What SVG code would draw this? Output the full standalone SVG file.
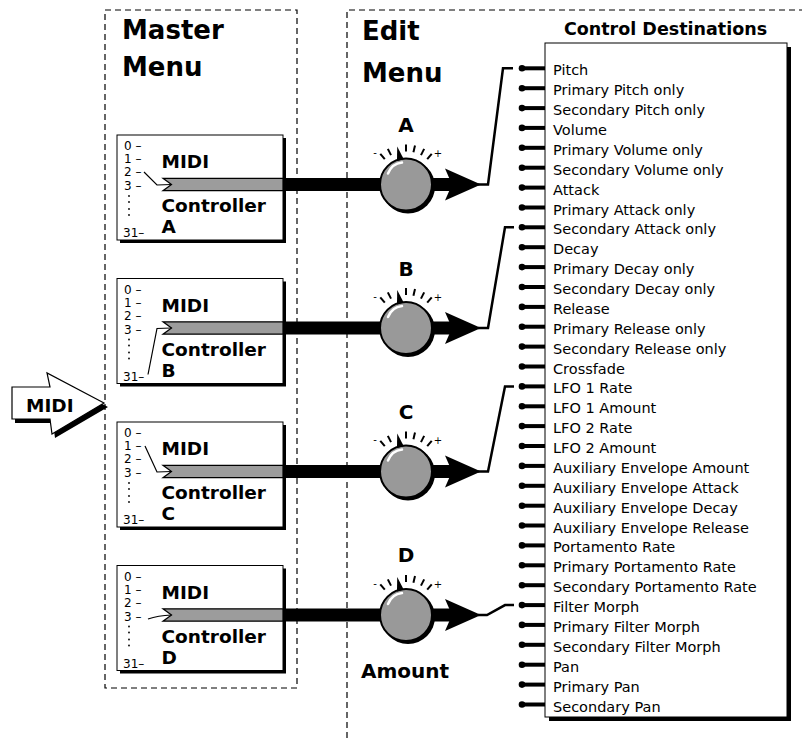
<svg xmlns="http://www.w3.org/2000/svg" xmlns:xlink="http://www.w3.org/1999/xlink" width="802" height="738" viewBox="0 0 802 738">
<style>
.dash{fill:none;stroke:#000;stroke-width:1.2;stroke-dasharray:6,4}
.title{font-family:"DejaVu Sans",sans-serif;font-weight:bold;font-size:26px;fill:#000}
.big{font-family:"DejaVu Sans",sans-serif;font-weight:bold;font-size:18.5px;fill:#000}
.klabel{font-family:"DejaVu Sans",sans-serif;font-weight:bold;font-size:20px;fill:#000;text-anchor:middle}
.num{font-family:"DejaVu Sans",sans-serif;font-size:12px;fill:#000}
.pm{font-family:"DejaVu Sans",sans-serif;font-size:10px;fill:#000;text-anchor:middle}
.item{font-family:"DejaVu Sans",sans-serif;font-size:14.5px;fill:#000}
.dtitle{font-family:"DejaVu Sans",sans-serif;font-weight:bold;font-size:17.5px;fill:#000;text-anchor:middle}
.box{fill:#fff;stroke:#000;stroke-width:1}
.shadow{fill:#000}
.gbar{fill:#9c9c9c;stroke:#000;stroke-width:1.2}
.sel{fill:none;stroke:#000;stroke-width:1.2}
.shaft{stroke:#000;stroke-width:13;fill:none}
.sw{fill:none;stroke:#000;stroke-width:2.5;stroke-linejoin:miter}
.tick{stroke:#000;stroke-width:2}
</style>
<defs>
<g id="term"><line x1="522" y1="0" x2="545" y2="0" stroke="#000" stroke-width="4"/><circle cx="522" cy="0" r="3.3" fill="#000"/></g>
<g id="knob">
<circle cx="2" cy="2" r="27" fill="#000"/>
<circle cx="0" cy="0" r="26" fill="#999" stroke="#000" stroke-width="2"/>
<path d="M-18,-11 Q-14,-21 -4,-22" fill="none" stroke="#fff" stroke-width="2.5" stroke-linecap="round"/>
<line class="tick" x1="0" y1="-33" x2="0" y2="-40" transform="rotate(-40)"/>
<line class="tick" x1="0" y1="-33" x2="0" y2="-40" transform="rotate(-27)"/>
<line class="tick" x1="0" y1="-33" x2="0" y2="-40"/>
<line class="tick" x1="0" y1="-33" x2="0" y2="-40" transform="rotate(13)"/>
<line class="tick" x1="0" y1="-33" x2="0" y2="-40" transform="rotate(27)"/>
<line class="tick" x1="0" y1="-33" x2="0" y2="-40" transform="rotate(40)"/>
<polygon points="-3.5,-25 0,-39 3.5,-25" fill="#000" transform="rotate(-13)"/>
</g>
<polygon id="head" points="-35,-16 1,0 -35,16 -28,0" fill="#000"/>
</defs>

<g id="master-menu">
<rect class="dash" x="105" y="10" width="192" height="678"/>
<text class="title" x="122" y="39">Master</text>
<text class="title" x="122" y="76">Menu</text>
</g>

<g id="edit-menu">
<path class="dash" d="M347,738 V10 H802"/>
<text class="title" x="362" y="40">Edit</text>
<text class="title" x="362" y="82">Menu</text>
<text class="klabel" x="405" y="678">Amount</text>
</g>

<g id="midi-in">
<polygon points="15,391 53,391 50,377 108,407 55,438 53,423 15,423" fill="#000"/>
<polygon points="12,387 50,387 47,373 104,403 52,434 50,419 12,419" fill="#fff" stroke="#000" stroke-width="1.2"/>
<text class="big" x="26" y="411.5">MIDI</text>
</g>

<g id="ctrl-A" transform="translate(0,135)">
<rect class="shadow" x="120" y="3" width="166" height="105"/>
<rect class="box" x="117" y="0" width="166" height="105"/>
<text class="num" x="124" y="15">0 –</text>
<text class="num" x="124" y="28">1 –</text>
<text class="num" x="124" y="41">2 –</text>
<text class="num" x="124" y="55">3 –</text>
<g fill="#000"><circle cx="129" cy="61" r="0.9"/><circle cx="129" cy="67" r="0.9"/><circle cx="129" cy="74" r="0.9"/><circle cx="129" cy="80" r="0.9"/></g>
<text class="num" x="123" y="102">31–</text>
<polygon class="gbar" points="163,43.3 283,43.3 283,55.7 163,55.7 171.5,49.5"/>
<polyline class="sel" points="144,37 157,50 171.5,49.5"/>
<text class="big" x="161.5" y="33">MIDI</text>
<text class="big" x="161.5" y="77">Controller</text>
<text class="big" x="161.5" y="98">A</text>
</g>

<g id="ctrl-B" transform="translate(0,278.5)">
<rect class="shadow" x="120" y="3" width="166" height="105"/>
<rect class="box" x="117" y="0" width="166" height="105"/>
<text class="num" x="124" y="15">0 –</text>
<text class="num" x="124" y="28">1 –</text>
<text class="num" x="124" y="41">2 –</text>
<text class="num" x="124" y="55">3 –</text>
<g fill="#000"><circle cx="129" cy="61" r="0.9"/><circle cx="129" cy="67" r="0.9"/><circle cx="129" cy="74" r="0.9"/><circle cx="129" cy="80" r="0.9"/></g>
<text class="num" x="123" y="102">31–</text>
<polygon class="gbar" points="163,43.3 283,43.3 283,55.7 163,55.7 171.5,49.5"/>
<polyline class="sel" points="148,96 157,50 171.5,49.5"/>
<text class="big" x="161.5" y="33">MIDI</text>
<text class="big" x="161.5" y="77">Controller</text>
<text class="big" x="161.5" y="98">B</text>
</g>

<g id="ctrl-C" transform="translate(0,422)">
<rect class="shadow" x="120" y="3" width="166" height="105"/>
<rect class="box" x="117" y="0" width="166" height="105"/>
<text class="num" x="124" y="15">0 –</text>
<text class="num" x="124" y="28">1 –</text>
<text class="num" x="124" y="41">2 –</text>
<text class="num" x="124" y="55">3 –</text>
<g fill="#000"><circle cx="129" cy="61" r="0.9"/><circle cx="129" cy="67" r="0.9"/><circle cx="129" cy="74" r="0.9"/><circle cx="129" cy="80" r="0.9"/></g>
<text class="num" x="123" y="102">31–</text>
<polygon class="gbar" points="163,43.3 283,43.3 283,55.7 163,55.7 171.5,49.5"/>
<polyline class="sel" points="145,24 157,50 171.5,49.5"/>
<text class="big" x="161.5" y="33">MIDI</text>
<text class="big" x="161.5" y="77">Controller</text>
<text class="big" x="161.5" y="98">C</text>
</g>

<g id="ctrl-D" transform="translate(0,565.5)">
<rect class="shadow" x="120" y="3" width="166" height="105"/>
<rect class="box" x="117" y="0" width="166" height="105"/>
<text class="num" x="124" y="15">0 –</text>
<text class="num" x="124" y="28">1 –</text>
<text class="num" x="124" y="41">2 –</text>
<text class="num" x="124" y="55">3 –</text>
<g fill="#000"><circle cx="129" cy="61" r="0.9"/><circle cx="129" cy="67" r="0.9"/><circle cx="129" cy="74" r="0.9"/><circle cx="129" cy="80" r="0.9"/></g>
<text class="num" x="123" y="102">31–</text>
<polygon class="gbar" points="163,43.3 283,43.3 283,55.7 163,55.7 171.5,49.5"/>
<path class="sel" d="M148,53.5 Q158,50 171.5,49.5"/>
<text class="big" x="161.5" y="33">MIDI</text>
<text class="big" x="161.5" y="77">Controller</text>
<text class="big" x="161.5" y="98">D</text>
</g>

<g id="connectors">
<line class="shaft" x1="283" y1="184.5" x2="452" y2="184.5"/>
<line class="shaft" x1="283" y1="328" x2="452" y2="328"/>
<line class="shaft" x1="283" y1="471.5" x2="452" y2="471.5"/>
<line class="shaft" x1="283" y1="615" x2="452" y2="615"/>
<use xlink:href="#head" x="480" y="184.5"/>
<use xlink:href="#head" x="480" y="328"/>
<use xlink:href="#head" x="480" y="471.5"/>
<use xlink:href="#head" x="480" y="615"/>
<polyline class="sw" points="478,184.5 488,184.5 503,68.3 513,68.3"/>
<polyline class="sw" points="478,328 488,328 505,227.3 514,227.3"/>
<polyline class="sw" points="478,471.5 488,471.5 505,386.4 514,386.4"/>
<polyline class="sw" points="478,615 487,615 505,605.1 514,605.1"/>
</g>

<g id="knob-A">
<use xlink:href="#knob" x="406" y="184.5"/>
<text class="pm" x="375" y="156">-</text>
<text class="pm" x="438" y="157">+</text>
<text class="klabel" x="406" y="132">A</text>
</g>
<g id="knob-B">
<use xlink:href="#knob" x="406" y="328"/>
<text class="pm" x="375" y="299.5">-</text>
<text class="pm" x="438" y="300.5">+</text>
<text class="klabel" x="406" y="276">B</text>
</g>
<g id="knob-C">
<use xlink:href="#knob" x="406" y="471.5"/>
<text class="pm" x="375" y="443">-</text>
<text class="pm" x="438" y="444">+</text>
<text class="klabel" x="406" y="419">C</text>
</g>
<g id="knob-D">
<use xlink:href="#knob" x="406" y="615"/>
<text class="pm" x="375" y="586.5">-</text>
<text class="pm" x="438" y="587.5">+</text>
<text class="klabel" x="406" y="562">D</text>
</g>

<g id="destinations">
<text class="dtitle" x="665.5" y="35">Control Destinations</text>
<rect class="shadow" x="549" y="47" width="242" height="674"/>
<rect class="box" x="545" y="43" width="242" height="674"/>
<g>
<use xlink:href="#term" y="68.3"/><use xlink:href="#term" y="88.2"/><use xlink:href="#term" y="108.1"/><use xlink:href="#term" y="127.9"/>
<use xlink:href="#term" y="147.8"/><use xlink:href="#term" y="167.7"/><use xlink:href="#term" y="187.6"/><use xlink:href="#term" y="207.5"/>
<use xlink:href="#term" y="227.3"/><use xlink:href="#term" y="247.2"/><use xlink:href="#term" y="267.1"/><use xlink:href="#term" y="287"/>
<use xlink:href="#term" y="306.9"/><use xlink:href="#term" y="326.7"/><use xlink:href="#term" y="346.6"/><use xlink:href="#term" y="366.5"/>
<use xlink:href="#term" y="386.4"/><use xlink:href="#term" y="406.3"/><use xlink:href="#term" y="426.1"/><use xlink:href="#term" y="446"/>
<use xlink:href="#term" y="465.9"/><use xlink:href="#term" y="485.8"/><use xlink:href="#term" y="505.7"/><use xlink:href="#term" y="525.5"/>
<use xlink:href="#term" y="545.4"/><use xlink:href="#term" y="565.3"/><use xlink:href="#term" y="585.2"/><use xlink:href="#term" y="605.1"/>
<use xlink:href="#term" y="624.9"/><use xlink:href="#term" y="644.8"/><use xlink:href="#term" y="664.7"/><use xlink:href="#term" y="684.6"/>
<use xlink:href="#term" y="704.5"/>
</g>
<text class="item" x="553" y="75.3">Pitch</text>
<text class="item" x="553" y="95.2">Primary Pitch only</text>
<text class="item" x="553" y="115.1">Secondary Pitch only</text>
<text class="item" x="553" y="134.9">Volume</text>
<text class="item" x="553" y="154.8">Primary Volume only</text>
<text class="item" x="553" y="174.7">Secondary Volume only</text>
<text class="item" x="553" y="194.6">Attack</text>
<text class="item" x="553" y="214.5">Primary Attack only</text>
<text class="item" x="553" y="234.3">Secondary Attack only</text>
<text class="item" x="553" y="254.2">Decay</text>
<text class="item" x="553" y="274.1">Primary Decay only</text>
<text class="item" x="553" y="294">Secondary Decay only</text>
<text class="item" x="553" y="313.9">Release</text>
<text class="item" x="553" y="333.7">Primary Release only</text>
<text class="item" x="553" y="353.6">Secondary Release only</text>
<text class="item" x="553" y="373.5">Crossfade</text>
<text class="item" x="553" y="393.4">LFO 1 Rate</text>
<text class="item" x="553" y="413.3">LFO 1 Amount</text>
<text class="item" x="553" y="433.1">LFO 2 Rate</text>
<text class="item" x="553" y="453">LFO 2 Amount</text>
<text class="item" x="553" y="472.9">Auxiliary Envelope Amount</text>
<text class="item" x="553" y="492.8">Auxiliary Envelope Attack</text>
<text class="item" x="553" y="512.7">Auxiliary Envelope Decay</text>
<text class="item" x="553" y="532.5">Auxiliary Envelope Release</text>
<text class="item" x="553" y="552.4">Portamento Rate</text>
<text class="item" x="553" y="572.3">Primary Portamento Rate</text>
<text class="item" x="553" y="592.2">Secondary Portamento Rate</text>
<text class="item" x="553" y="612.1">Filter Morph</text>
<text class="item" x="553" y="631.9">Primary Filter Morph</text>
<text class="item" x="553" y="651.8">Secondary Filter Morph</text>
<text class="item" x="553" y="671.7">Pan</text>
<text class="item" x="553" y="691.6">Primary Pan</text>
<text class="item" x="553" y="711.5">Secondary Pan</text>
</g>
</svg>
